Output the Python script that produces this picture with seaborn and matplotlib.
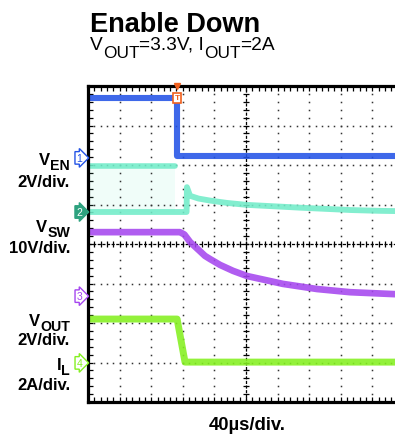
import numpy as np
import pandas as pd
import matplotlib
matplotlib.use("Agg")
import matplotlib.pyplot as plt
import matplotlib.transforms as mtransforms
import seaborn as sns

# scope traces, in divisions (x: 0..10 time div, y: 0..8 vertical div)
ven_t = [0.0, 2.82, 2.82, 10.0]
ven_v = [7.70, 7.70, 6.23, 6.23]

vsw_hi_t = [0.0, 2.75]
vsw_hi_v = [5.97, 5.97]
vsw_t = [0.0, 3.12, 3.13, 3.23, 3.50, 3.86, 4.40, 5.03, 6.00, 6.70, 7.50, 8.30, 9.20, 10.0]
vsw_v = [4.81, 4.81, 5.44, 5.22, 5.15, 5.10, 5.04, 4.99, 4.95, 4.92, 4.89, 4.86, 4.84, 4.83]

vout_t = [0.0, 2.91, 3.05, 3.23, 3.54, 3.70, 3.86, 4.18, 4.59, 5.03, 5.60, 6.17, 7.25, 8.29, 9.72, 10.0]
vout_v = [4.30, 4.30, 4.24, 4.05, 3.82, 3.70, 3.62, 3.47, 3.32, 3.19, 3.09, 2.99, 2.86, 2.78, 2.73, 2.72]

il_t = [0.0, 2.82, 3.07, 10.0]
il_v = [2.10, 2.10, 1.01, 1.01]

trig_t = 2.82
ground_lvls = [6.18, 4.81, 2.68, 0.99]
ch_names = ["1", "2", "3", "4"]

blue = "#2353e6"
cyan = "#72ecc9"
purple = "#a546ef"
green = "#84f020"
orange = "#f0601e"

sns.set_theme(style="white")
plt.rcParams['font.family'] = ['Liberation Sans', 'DejaVu Sans']
plt.rcParams['text.color'] = 'black'

W, H = 395, 435
fig = plt.figure(figsize=(W / 100, H / 100), dpi=100)
ax = fig.add_axes([88 / W, 32 / H, 316 / W, 316 / H])
ax.set_xlim(0, 10)
ax.set_ylim(0, 8)

# graticule: dotted lines every division
dots = np.arange(0, 10.01, 0.2)
vdots = np.arange(0, 8.01, 0.2)
for gx in range(1, 10):
    if gx == 5:
        continue
    ax.plot([gx] * len(vdots), vdots, ls='none', marker='s', ms=1.1, color='#333333', mew=0)
for gy in range(1, 8):
    if gy == 4:
        continue
    ax.plot(dots, [gy] * len(dots), ls='none', marker='s', ms=1.1, color='#333333', mew=0)

# centre crosshair with sub-division ticks
ax.axvline(5, color='black', lw=0.9, dashes=(2.5, 1.2))
ax.axhline(4, color='black', lw=0.9, dashes=(2.5, 1.2))
ax.plot([5] * len(vdots), vdots, ls='none', marker='_', ms=5, mew=0.9, color='black')
ax.plot(dots, [4] * len(dots), ls='none', marker='|', ms=5, mew=0.9, color='black')

# VSW switching region (between the two levels before shutdown)
ax.fill_between(vsw_hi_t, [4.81, 4.81], vsw_hi_v, color=cyan, alpha=0.10, lw=0)

traces = [
    (vout_t, vout_v, purple, 4.8),
    (vsw_t, vsw_v, cyan, 4.2),
    (vsw_hi_t, vsw_hi_v, cyan, 4.0),
    (il_t, il_v, green, 5.0),
    (ven_t, ven_v, blue, 4.4),
]
for t, v, c, lw in traces:
    df = pd.DataFrame({"t": t, "v": v})
    sns.lineplot(data=df, x="t", y="v", ax=ax, color=c, lw=lw, sort=False,
                 estimator=None, alpha=0.88)

ax.set_xlabel("")
ax.set_ylabel("")
ax.set_xticks([])
ax.set_yticks([])
ax.set_xticks(dots, minor=True)
ax.set_yticks(vdots, minor=True)
ax.tick_params(which='minor', direction='in', length=3.5, width=0.9, color='black',
               top=True, bottom=True, left=True, right=False)
for s in ['left', 'top', 'bottom']:
    ax.spines[s].set_linewidth(2.3)
    ax.spines[s].set_color('black')
ax.spines['right'].set_visible(False)

# trigger marker
ax.plot([trig_t], [8.0], marker='v', ms=5, color=orange, clip_on=False, zorder=6)
ax.text(trig_t, 7.70, "T", color=orange, fontsize=6, fontweight='bold', ha='center',
        va='center', zorder=6,
        bbox=dict(boxstyle='square,pad=0.15', fc='white', ec=orange, lw=1.2))

# channel ground markers
trans = mtransforms.blended_transform_factory(ax.transAxes, ax.transData)
styles = [(blue, 'white', blue), ('white', '#2ea27f', '#2ea27f'),
          (purple, 'white', purple), (green, 'white', green)]
for name, lvl, (tc, fc, ec) in zip(ch_names, ground_lvls, styles):
    ax.text(-0.028, lvl, name, transform=trans, ha='center', va='center',
            fontsize=7.5, color=tc, clip_on=False,
            bbox=dict(boxstyle='rarrow,pad=0.12', fc=fc, ec=ec, lw=1.0))

renderer = fig.canvas.get_renderer()


def sub_text(x_px, y_px, pieces, size, weight, ha, sub_scale, sub_drop):
    # pieces: list of (string, is_subscript); x_px/y_px measured from top-left
    arts = []
    total = 0
    for s, is_sub in pieces:
        fs = size * sub_scale if is_sub else size
        t = fig.text(0, 0, s, fontsize=fs, fontweight=weight, va='baseline', ha='left')
        w = t.get_window_extent(renderer).width
        arts.append((t, w, is_sub))
        total += w
    x = x_px - total if ha == 'right' else x_px
    for t, w, is_sub in arts:
        yb = y_px + (sub_drop * size * 100 / 72 if is_sub else 0)
        t.set_position((x / W, 1 - yb / H))
        x += w


# titles
fig.text(90 / W, 1 - 32 / H, "Enable Down", fontsize=19.5, fontweight='bold',
         ha='left', va='baseline')
sub_text(90, 50, [("V", False), ("OUT", True), ("=3.3V, I", False), ("OUT", True),
                  ("=2A", False)], 13.8, 'normal', 'left', 0.9, 0.4)

# channel labels
labels = [
    ([("V", False), ("EN", True)], 165),
    ([("2V/div.", False)], 187),
    ([("V", False), ("SW", True)], 232),
    ([("10V/div.", False)], 253),
    ([("V", False), ("OUT", True)], 326),
    ([("2V/div.", False)], 345),
    ([("I", False), ("L", True)], 370),
    ([("2A/div.", False)], 390),
]
for pieces, yb in labels:
    sub_text(70, yb, pieces, 12, 'bold', 'right', 0.85, 0.3)

fig.text(247 / W, 1 - 430 / H, "40µs/div.", fontsize=13.3, fontweight='bold',
         ha='center', va='baseline')

fig.savefig("out.png", dpi=100)
